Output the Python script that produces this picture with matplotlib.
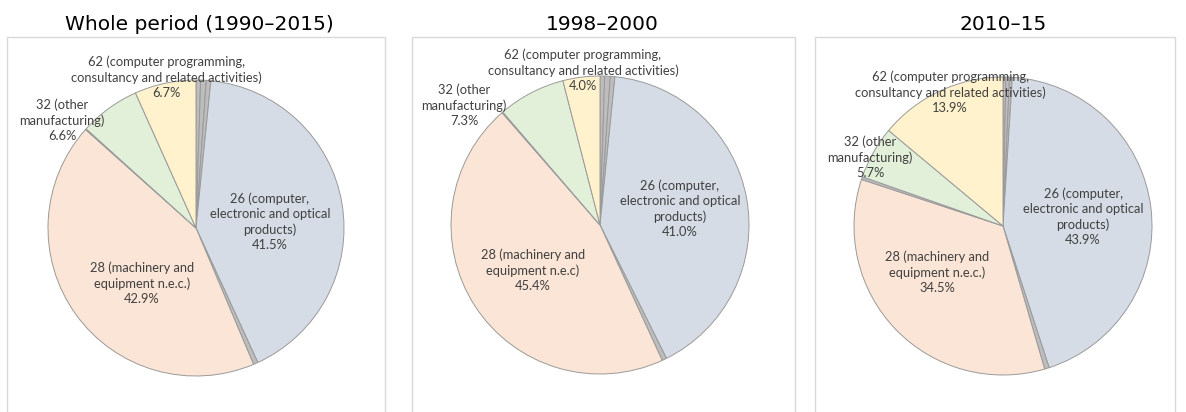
import matplotlib
matplotlib.use("Agg")
import matplotlib.pyplot as plt
from matplotlib.patches import Rectangle

W, H = 1186, 412

titles = ["Whole period (1990\u20132015)", "1998\u20132000", "2010\u201315"]

# slice order clockwise from 12 o'clock
slice_names = ["other_a", "other_b", "other_c", "26", "other_d", "28", "other_e", "32", "62"]
shares_whole = [0.5, 0.6, 0.5, 41.5, 0.5, 42.9, 0.1, 6.6, 6.7]
shares_9800 = [0.5, 0.6, 0.5, 41.0, 0.5, 45.4, 0.1, 7.3, 4.0]
shares_1015 = [0.3, 0.4, 0.3, 43.9, 0.5, 34.5, 0.3, 5.7, 13.9]

lab26 = "26 (computer,\nelectronic and optical\nproducts)"
lab28_a = "28 (machinery and\nequipment n.e.c.)"
lab28_b = "28 (machinery and\nequipment n.e.c)"
lab32 = "32 (other\nmanufacturing)"
lab62 = "62 (computer programming,\nconsultancy and related activities)"

colors = {"26": "#D6DCE5", "28": "#FBE5D6", "32": "#E2F0D9", "62": "#FFF2CC"}
grey = "#BDBDBD"
edge = "#9A9A9A"
txt_col = "#404040"

# layout (pixels)
panels = [
    dict(shares=shares_whole, cx=196, cy=228, r=148, title_x=199, box=(7, 37, 385),
         lab28=lab28_a,
         pos={"62": (166, 77), "32": (62, 120), "26": (270, 222), "28": (142, 283)}),
    dict(shares=shares_9800, cx=600, cy=225, r=149, title_x=602, box=(412, 37, 795),
         lab28=lab28_b,
         pos={"62": (583, 70), "32": (464, 105), "26": (680, 209), "28": (533, 270)}),
    dict(shares=shares_1015, cx=1003, cy=226, r=149, title_x=1003, box=(815, 37, 1175),
         lab28=lab28_a,
         pos={"62": (950, 92), "32": (870, 157), "26": (1083, 217), "28": (937, 272)}),
]

fig = plt.figure(figsize=(W / 100, H / 100), dpi=100)
ax = fig.add_axes([0, 0, 1, 1])

label_font = ["Lato", "DejaVu Sans"]
for i, p in enumerate(panels):
    x0, y0, x1 = p["box"]
    ax.add_patch(Rectangle((x0, -5), x1 - x0, (H - y0) + 5, fill=False,
                           edgecolor="#D9D9D9", linewidth=1.0))
    cols = [colors.get(n, grey) for n in slice_names]
    ax.pie(p["shares"], colors=cols, startangle=90, counterclock=False,
           center=(p["cx"], H - p["cy"]), radius=p["r"], normalize=True,
           wedgeprops=dict(edgecolor=edge, linewidth=0.7), frame=True)
    ax.text(p["title_x"], H - 30, titles[i], ha="center", va="baseline",
            fontsize=14.5, family="DejaVu Sans", color="black")
    sh = dict(zip(slice_names, p["shares"]))
    texts = {"26": lab26, "28": p["lab28"], "32": lab32, "62": lab62}
    for k in ["62", "32", "26", "28"]:
        x, y = p["pos"][k]
        ax.text(x, H - y, f"{texts[k]}\n{sh[k]:.1f}%", ha="center", va="center",
                fontsize=9.3, family=label_font, color=txt_col, linespacing=1.3)

ax.set_xlim(0, W)
ax.set_ylim(0, H)
ax.set_aspect("auto")
ax.axis("off")
fig.savefig("out.png", dpi=100)
